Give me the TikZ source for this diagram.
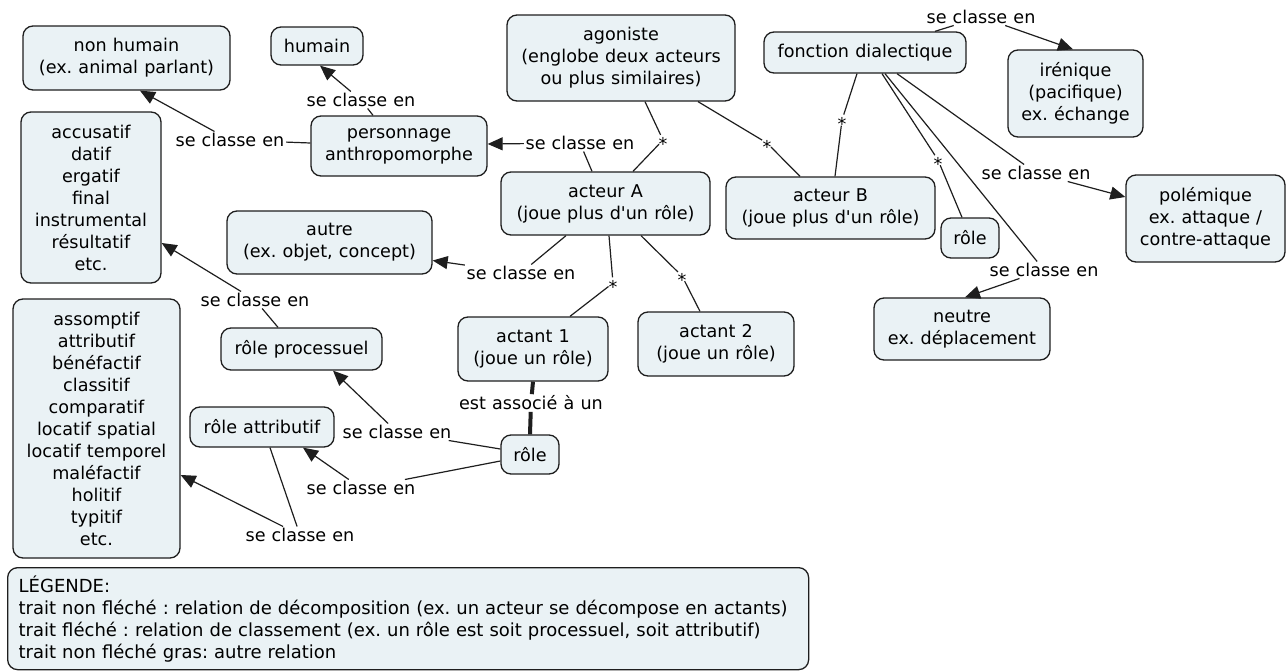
\documentclass[tikz,border=0pt]{standalone}
\usepackage{fontspec}
\setmainfont{DejaVu Sans}[Ligatures=TeXOff, WordSpace=1.1]
\frenchspacing
\usetikzlibrary{arrows.meta}
\definecolor{cfill}{RGB}{234,242,245}
\definecolor{cline}{RGB}{30,30,30}
\begin{document}
\begin{tikzpicture}[x=1pt,y=-1pt,
  every node/.style={font=\fontsize{17.6}{22}\selectfont},
  concept/.style={draw=cline, line width=1.3pt, fill=cfill, rounded corners=10pt,
    align=center, inner sep=0pt},
  sz/.style 2 args={minimum width=#1pt, minimum height=#2pt},
  phrase/.style={inner sep=1.5pt, align=center},
  star/.style={circle, minimum size=11pt, inner sep=0pt},
  link/.style={draw=cline, line width=1.2pt},
  classe/.style={link, -{Triangle[length=15pt,width=13pt]}},
  boldlink/.style={draw=cline, line width=4pt}]
\useasboundingbox (0,0) rectangle (1286,672);

% concepts
\node[concept, sz={207}{64}] (nh) at (126.5,58) {non humain\\(ex. animal parlant)};
\node[concept, sz={92}{38}] (hum) at (317,46) {humain};
\node[concept, sz={140}{171}] (acc) at (91,197.5) {accusatif\\datif\\ergatif\\final\\instrumental\\résultatif\\etc.};
\node[concept, sz={176}{60}] (pers) at (399,146) {personnage\\anthropomorphe};
\node[concept, sz={205}{63}] (autre) at (329.5,242.5) {autre\\(ex. objet, concept)};
\node[concept, sz={228}{86}] (agon) at (621,58) {agoniste\\(englobe deux acteurs\\ou plus similaires)};
\node[concept, sz={202}{41}] (fdia) at (865,52.5) {fonction dialectique};
\node[concept, sz={209}{63}] (actA) at (605.5,203.5) {acteur A\\(joue plus d'un rôle)};
\node[concept, sz={209}{62}] (actB) at (830.5,208) {acteur B\\(joue plus d'un rôle)};
\node[concept, sz={135}{87}] (iren) at (1075.5,93.5) {irénique\\(pacifique)\\ex. échange};
\node[concept, sz={159}{87}] (pol) at (1205.5,218.5) {polémique\\ex. attaque /\\contre-attaque};
\node[concept, sz={58}{40}] (roleR) at (970,238) {rôle};
\node[concept, sz={176}{62}] (neutre) at (962,329) {neutre\\ex. déplacement};
\node[concept, sz={167}{259}] (assom) at (96.5,428.5) {assomptif\\attributif\\bénéfactif\\classitif\\comparatif\\locatif spatial\\locatif temporel\\maléfactif\\holitif\\typitif\\etc.};
\node[concept, sz={161}{42}] (rproc) at (301.5,349) {rôle processuel};
\node[concept, sz={144}{40}] (rattr) at (262,427) {rôle attributif};
\node[concept, sz={150}{64}] (act1) at (533,349) {actant 1\\(joue un rôle)};
\node[concept, sz={156}{64}] (act2) at (716,344) {actant 2\\(joue un rôle)};
\node[concept, sz={58}{39}] (roleC) at (530,454.5) {rôle};

% linking phrases
\node[phrase] (l1) at (230,140) {se classe en};
\node[phrase] (l2) at (361,100) {se classe en};
\node[phrase] (l3) at (580,143) {se classe en};
\node[phrase] (l4) at (521,273) {se classe en};
\node[phrase] (l5) at (1044,270) {se classe en};
\node[phrase] (l6) at (1036,173) {se classe en};
\node[phrase] (l7) at (981,17) {se classe en};
\node[phrase] (l8) at (397,432) {se classe en};
\node[phrase] (l9) at (361,488) {se classe en};
\node[phrase] (l10) at (300,535) {se classe en};
\node[phrase] (l11) at (255,300) {se classe en};
\node[phrase] (l12) at (531,403) {est associé à un};

% decomposition marks
\node[star] (s1) at (663,140) {\raisebox{-10.3pt}[0pt][0pt]{*}};
\node[star] (s2) at (767,143) {\raisebox{-10.3pt}[0pt][0pt]{*}};
\node[star] (s3) at (842,120) {\raisebox{-10.3pt}[0pt][0pt]{*}};
\node[star] (s4) at (938,160) {\raisebox{-10.3pt}[0pt][0pt]{*}};
\node[star] (s5) at (613,283) {\raisebox{-10.3pt}[0pt][0pt]{*}};
\node[star] (s6) at (682,276) {\raisebox{-10.3pt}[0pt][0pt]{*}};

% classification links
\draw[link] ([yshift=3pt]pers.west) -- (l1);
\draw[classe] (l1) -- ([xshift=13.5pt]nh.south);
\draw[link] ([xshift=-26pt]pers.north) -- (l2);
\draw[classe] (l2) -- ([xshift=3pt]hum.south);
\draw[link] ([xshift=-13.5pt]actA.north) -- (l3);
\draw[classe] (l3) -- ([yshift=2pt]pers.east);
\draw[link] ([xshift=-39.5pt]actA.south) -- (l4);
\draw[classe] (l4) -- ([yshift=-18pt]autre.east);
\draw[link] ([xshift=20pt]fdia.south) -- (l5);
\draw[classe] (l5) -- ([xshift=3pt]neutre.north);
\draw[link] ([xshift=32pt]fdia.south) -- (l6);
\draw[classe] (l6) -- ([yshift=21.5pt]pol.west);
\draw[link] ([xshift=70pt]fdia.north) -- (l7);
\draw[classe] (l7) -- ([xshift=-2.5pt]iren.north);
\draw[link] ([yshift=5.5pt]roleC.west) -- (l8);
\draw[classe] (l8) -- ([xshift=31.5pt]rproc.south);
\draw[link] ([yshift=-6.5pt]roleC.west) -- (l9);
\draw[classe] (l9) -- ([xshift=41pt]rattr.south);
\draw[link] ([xshift=8pt]rattr.south) -- (l10);
\draw[classe] (l10) -- ([yshift=-46.5pt]assom.east);
\draw[link] ([xshift=-23.5pt]rproc.north) -- (l11);
\draw[classe] (l11) -- ([yshift=-45.5pt]acc.east);

% decomposition links
\draw[link] ([xshift=24pt]agon.south) -- (s1) -- ([xshift=27.5pt]actA.north);
\draw[link] ([xshift=77pt]agon.south) -- (s2) -- ([xshift=-30.5pt]actB.north);
\draw[link] ([xshift=-8pt]fdia.south) -- (s3) -- ([xshift=4.5pt]actB.north);
\draw[link] ([xshift=17pt]fdia.south) -- (s4) -- ([xshift=-8pt]roleR.north);
\draw[link] ([xshift=3.5pt]actA.south) -- (s5) -- ([xshift=37pt]act1.north);
\draw[link] ([xshift=35.5pt]actA.south) -- (s6) -- ([xshift=-16pt]act2.north);

% other relation
\draw[boldlink] (act1.south) -- (l12) -- (roleC.north);

% legend
\node[concept, anchor=north west, sz={801}{102}, text width=779pt, align=left,
  inner xsep=11pt, font=\fontsize{18}{22}\selectfont] (leg) at (7,567) {LÉGENDE:\\
trait non fléché : relation de décomposition (ex. un acteur se décompose en actants)\\
trait fléché : relation de classement (ex. un rôle est soit processuel, soit attributif)\\
trait non fléché gras: autre relation};
\end{tikzpicture}
\end{document}
